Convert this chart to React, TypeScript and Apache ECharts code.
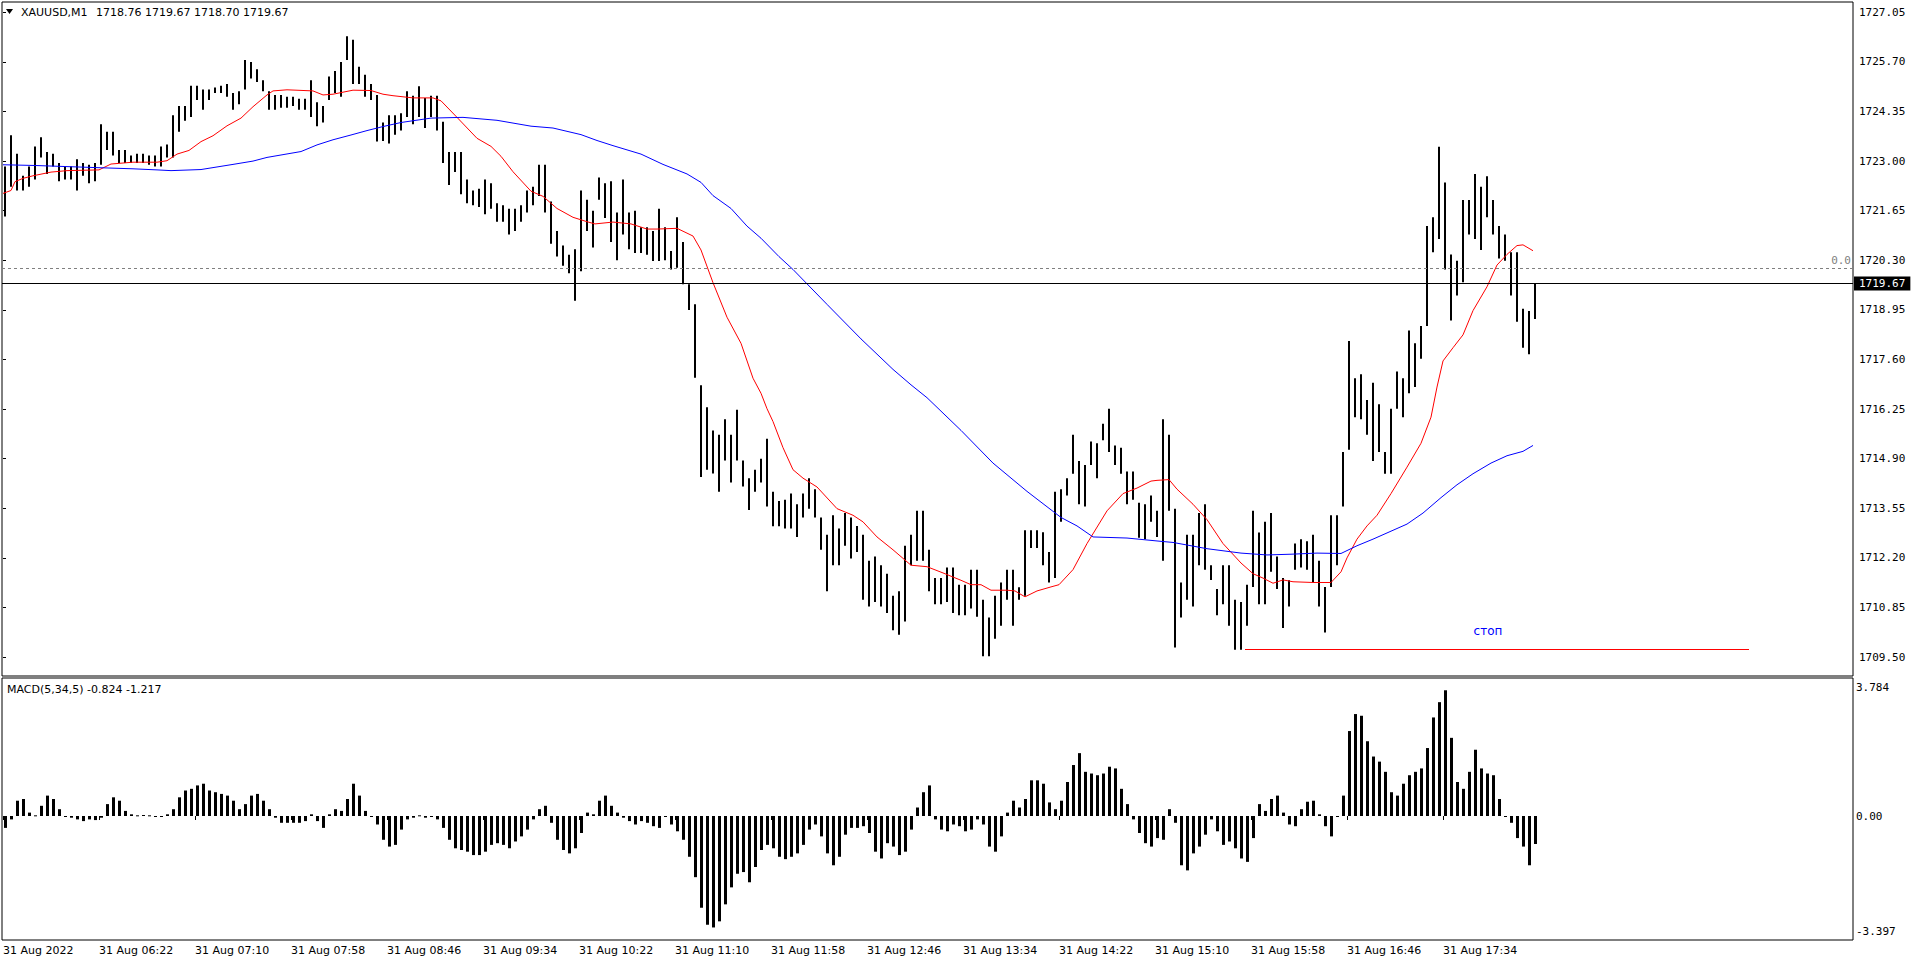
import React, { useEffect, useRef } from "react";
import * as echarts from "echarts";

// Each bar aggregates 3 one-minute bars, starting 31 Aug 2022 05:34
const BAR_MINUTES = 3;

const BAR_HIGH = [
  1722.85,1723.70,1723.20,1722.60,1722.85,1723.40,1723.65,1723.25,1723.20,1722.95,1722.85,1722.85,1723.05,1722.95,1722.90,1722.95,
  1724.00,1723.80,1723.80,1723.30,1723.30,1723.15,1723.20,1723.20,1723.15,1723.15,1723.40,1723.45,1724.25,1724.50,1724.50,1725.05,
  1725.05,1724.95,1724.95,1725.00,1725.05,1725.10,1724.85,1724.90,1725.75,1725.70,1725.50,1725.20,1724.90,1724.80,1724.80,1724.75,
  1724.75,1724.70,1724.70,1725.20,1724.60,1724.50,1725.30,1725.45,1725.70,1726.40,1726.30,1725.57,1725.35,1725.10,1724.80,1724.05,
  1724.25,1724.25,1724.30,1724.90,1724.78,1725.04,1724.72,1724.78,1724.78,1724.07,1723.25,1723.25,1723.25,1722.50,1722.20,1722.25,
  1722.50,1722.40,1721.85,1721.80,1721.70,1721.70,1721.80,1722.20,1722.30,1722.90,1722.90,1721.90,1721.10,1720.70,1720.45,1720.60,
  1722.20,1721.95,1721.65,1722.55,1722.40,1722.45,1721.60,1722.50,1721.60,1721.65,1721.20,1721.20,1721.10,1721.70,1721.20,1720.55,
  1721.47,1720.80,1719.65,1719.10,1716.90,1716.30,1715.67,1715.55,1715.97,1715.55,1716.23,1714.85,1714.37,1714.60,1714.90,1715.44,
  1714.00,1713.75,1713.78,1713.95,1713.66,1713.95,1714.37,1714.07,1713.30,1712.83,1713.36,1713.00,1713.42,1713.30,1713.07,1712.83,
  1712.12,1712.24,1712.00,1711.77,1711.17,1711.29,1712.53,1712.83,1713.48,1713.48,1712.42,1711.65,1711.65,1711.94,1711.94,1711.47,
  1711.47,1711.88,1711.88,1711.06,1710.58,1711.17,1711.53,1711.88,1711.88,1711.40,1712.95,1712.95,1712.95,1712.90,1712.36,1714.00,
  1714.07,1714.37,1715.55,1714.84,1714.73,1715.37,1715.32,1715.85,1716.26,1715.26,1715.20,1714.55,1714.55,1713.70,1713.66,1713.90,
  1713.48,1715.97,1715.55,1713.54,1711.53,1712.83,1712.83,1713.42,1713.66,1712.00,1711.35,1712.00,1712.00,1711.06,1711.00,1711.47,
  1713.48,1712.89,1713.18,1713.42,1712.24,1711.65,1711.59,1712.59,1712.71,1712.65,1712.83,1712.12,1711.41,1713.36,1713.36,1715.08,
  1718.10,1717.09,1717.20,1716.50,1716.97,1716.38,1715.08,1716.26,1717.27,1717.09,1718.39,1718.04,1718.51,1721.23,1721.47,1723.39,
  1722.42,1720.46,1720.29,1721.94,1721.94,1722.65,1722.30,1722.59,1721.94,1721.23,1721.00,1720.52,1720.52,1718.98,1718.92,1719.67,
];

const BAR_LOW = [
  1721.49,1722.30,1722.20,1722.20,1722.30,1722.50,1723.10,1722.65,1722.85,1722.45,1722.50,1722.50,1722.20,1722.60,1722.40,1722.45,
  1722.90,1723.30,1723.15,1722.95,1722.95,1722.95,1722.95,1722.95,1722.90,1722.85,1722.85,1723.10,1723.10,1723.80,1724.10,1724.20,
  1724.66,1724.40,1724.66,1724.85,1724.85,1724.75,1724.40,1724.55,1724.95,1725.25,1725.15,1724.90,1724.40,1724.40,1724.45,1724.45,
  1724.50,1724.40,1724.40,1724.20,1723.95,1724.05,1724.66,1724.85,1724.75,1725.75,1725.10,1725.10,1724.75,1724.66,1723.53,1723.55,
  1723.48,1723.72,1723.83,1724.20,1724.00,1724.20,1723.90,1724.20,1723.83,1722.95,1722.35,1722.70,1722.10,1721.85,1721.80,1721.75,
  1721.55,1721.70,1721.35,1721.35,1721.00,1721.10,1721.35,1721.60,1721.80,1722.05,1721.60,1720.75,1720.40,1720.15,1719.95,1719.20,
  1720.00,1721.10,1720.65,1721.95,1721.45,1720.80,1720.30,1721.00,1720.60,1720.50,1720.50,1720.45,1720.28,1720.28,1720.30,1720.05,
  1720.10,1719.65,1718.95,1717.10,1714.40,1714.60,1714.50,1714.00,1714.85,1714.25,1714.85,1714.14,1713.50,1714.00,1714.25,1713.60,
  1713.06,1713.06,1713.00,1713.00,1712.77,1713.30,1713.54,1713.30,1712.42,1711.29,1712.00,1712.00,1712.53,1712.18,1712.36,1711.06,
  1710.88,1711.00,1710.88,1710.70,1710.23,1710.11,1710.47,1712.00,1712.12,1712.12,1711.29,1710.94,1710.94,1711.00,1710.70,1710.64,
  1710.64,1710.82,1710.60,1709.52,1709.52,1710.00,1710.35,1711.06,1710.35,1711.06,1711.17,1712.47,1712.47,1712.00,1711.53,1711.65,
  1713.18,1713.90,1714.49,1713.66,1713.60,1714.73,1714.37,1715.40,1715.08,1714.73,1714.49,1713.66,1713.78,1712.75,1712.71,1713.18,
  1712.77,1712.12,1713.48,1709.76,1710.58,1711.06,1710.88,1712.00,1711.88,1711.60,1710.64,1710.94,1710.35,1709.70,1709.70,1710.35,
  1711.41,1710.94,1710.94,1711.82,1711.35,1710.29,1710.88,1711.88,1711.94,1711.88,1711.53,1710.88,1710.17,1711.41,1712.00,1713.60,
  1715.14,1716.03,1715.97,1715.55,1714.84,1715.08,1714.49,1714.49,1716.26,1716.03,1716.68,1716.85,1717.62,1718.51,1720.52,1720.88,
  1720.05,1718.66,1719.34,1719.70,1721.00,1720.88,1720.58,1721.47,1721.00,1720.35,1720.29,1719.34,1718.63,1717.92,1717.74,1718.70,
];

const MACD_HIST = [
  -0.35,-0.10,0.45,0.50,0.10,0.02,0.30,0.60,0.50,0.20,0.00,-0.05,-0.10,-0.15,-0.10,-0.12,
  -0.05,0.35,0.55,0.45,0.15,0.05,0.02,0.03,0.02,0.00,-0.03,0.05,0.20,0.55,0.75,0.80,
  0.90,0.95,0.75,0.70,0.65,0.60,0.45,0.20,0.35,0.60,0.65,0.45,0.20,-0.05,-0.20,-0.20,
  -0.20,-0.20,-0.15,0.05,-0.15,-0.35,0.05,0.20,0.15,0.50,0.95,0.60,0.15,0.00,-0.25,-0.70,
  -0.90,-0.85,-0.40,-0.10,-0.05,0.02,-0.05,0.00,-0.10,-0.35,-0.70,-0.95,-1.00,-1.05,-1.15,-1.15,
  -1.05,-0.85,-0.80,-0.85,-0.95,-0.75,-0.60,-0.40,-0.10,0.20,0.30,-0.20,-0.70,-1.00,-1.10,-0.95,
  -0.50,0.10,0.05,0.45,0.60,0.30,0.10,-0.05,-0.15,-0.25,-0.15,-0.20,-0.30,-0.35,0.00,-0.25,
  -0.45,-0.70,-1.20,-1.80,-2.70,-3.20,-3.28,-3.10,-2.60,-2.10,-1.70,-1.65,-1.95,-1.50,-1.00,-0.85,
  -0.95,-1.20,-1.27,-1.20,-1.10,-0.85,-0.40,-0.25,-0.60,-1.10,-1.45,-1.20,-0.55,-0.35,-0.35,-0.30,
  -0.50,-1.05,-1.25,-0.80,-0.90,-1.15,-1.05,-0.40,0.25,0.70,0.90,-0.10,-0.40,-0.45,-0.25,-0.30,
  -0.45,-0.40,-0.10,-0.25,-0.90,-1.05,-0.60,0.10,0.45,0.25,0.50,1.05,1.05,0.95,0.40,0.20,
  0.45,1.00,1.50,1.85,1.30,1.25,1.20,1.25,1.45,1.40,0.80,0.35,-0.10,-0.50,-0.80,-0.90,
  -0.65,-0.70,0.20,-0.20,-1.45,-1.60,-1.10,-0.90,-0.55,-0.10,-0.45,-0.85,-0.75,-0.95,-1.25,-1.35,
  -0.65,0.35,0.15,0.50,0.60,0.10,-0.25,-0.30,0.20,0.42,0.45,0.05,-0.30,-0.60,0.00,0.60,
  2.50,3.00,2.95,2.20,1.75,1.60,1.30,0.70,0.60,0.95,1.20,1.30,1.40,2.00,2.90,3.35,
  3.70,2.30,1.00,0.80,1.30,1.95,1.40,1.25,1.20,0.50,-0.02,-0.20,-0.65,-0.90,-1.45,-0.824,
];

// [minute since 05:34, value]
const RED_MA = [
  [0,1722.12],[4,1722.2],[6,1722.44],[10,1722.53],[15,1722.6],[24,1722.7],[32,1722.74],[48,1722.76],[54,1722.92],[65,1722.97],
  [77,1722.97],[82,1723.01],[87,1723.19],[93,1723.29],[99,1723.53],[105,1723.69],[112,1723.96],[119,1724.17],[125,1724.48],[132,1724.8],
  [135,1724.91],[142,1724.94],[155,1724.91],[160,1724.8],[165,1724.82],[175,1724.93],[184,1724.92],[190,1724.82],[195,1724.78],[205,1724.72],
  [215,1724.72],[219,1724.64],[227,1724.19],[237,1723.62],[244,1723.4],[249,1723.13],[255,1722.71],[264,1722.18],[270,1722.04],[277,1721.71],
  [285,1721.47],[292,1721.35],[296,1721.29],[305,1721.34],[314,1721.29],[322,1721.15],[327,1721.15],[337,1721.17],[345,1720.96],[349,1720.58],
  [355,1719.69],[362,1718.75],[369,1718.04],[375,1717.09],[379,1716.68],[382,1716.26],[385,1715.91],[390,1715.2],[395,1714.6],[400,1714.37],
  [407,1714.13],[417,1713.54],[425,1713.36],[430,1713.18],[437,1712.77],[445,1712.42],[454,1712.0],[462,1711.96],[470,1711.79],[479,1711.59],
  [484,1711.47],[489,1711.47],[494,1711.32],[502,1711.32],[506,1711.3],[511,1711.14],[517,1711.3],[524,1711.41],[528,1711.47],[535,1711.88],
  [542,1712.59],[552,1713.48],[560,1713.95],[567,1714.1],[574,1714.29],[577,1714.31],[583,1714.33],[587,1714.07],[595,1713.66],[602,1713.24],
  [610,1712.59],[619,1712.06],[625,1711.77],[630,1711.65],[635,1711.51],[640,1711.6],[645,1711.55],[655,1711.53],[664,1711.53],[669,1711.82],
  [672,1712.2],[677,1712.71],[682,1713.07],[687,1713.36],[694,1713.95],[702,1714.67],[709,1715.32],[714,1716.03],[717,1716.85],[720,1717.56],
  [725,1717.92],[730,1718.27],[735,1718.93],[742,1719.58],[747,1720.17],[752,1720.46],[757,1720.7],[760,1720.72],[765,1720.56],
];

const BLUE_MA = [
  [0,1722.9],[16,1722.88],[32,1722.85],[48,1722.82],[65,1722.79],[77,1722.76],[84,1722.74],[99,1722.77],[115,1722.91],[125,1723.0],
  [132,1723.1],[149,1723.26],[157,1723.44],[165,1723.58],[174,1723.71],[182,1723.83],[190,1723.94],[199,1724.05],[214,1724.17],[230,1724.19],
  [247,1724.11],[264,1723.95],[275,1723.9],[289,1723.72],[297,1723.56],[305,1723.42],[319,1723.19],[330,1722.91],[342,1722.65],[349,1722.42],
  [355,1722.06],[364,1721.71],[372,1721.23],[379,1720.9],[388,1720.4],[395,1720.05],[412,1719.1],[429,1718.16],[445,1717.33],[454,1716.91],
  [462,1716.56],[479,1715.67],[495,1714.78],[512,1714.01],[529,1713.3],[537,1713.07],[545,1712.77],[562,1712.74],[579,1712.65],[585,1712.62],
  [602,1712.45],[619,1712.33],[632,1712.28],[644,1712.3],[657,1712.33],[669,1712.32],[677,1712.53],[685,1712.71],[702,1713.12],[710,1713.42],
  [719,1713.84],[727,1714.19],[735,1714.49],[744,1714.78],[752,1714.98],[760,1715.1],[765,1715.26],
];

const PRICE_TICKS = [1727.05,1725.70,1724.35,1723.00,1721.65,1720.30,1718.95,1717.60,1716.25,1714.90,1713.55,1712.20,1710.85,1709.50];
const MACD_TICKS = [3.784, 0, -3.397];
const TIME_TICK_MINUTES = [0,48,96,144,192,240,288,336,384,432,480,528,576,624,672,720];
const TIME_LABELS = [
  "31 Aug 2022","31 Aug 06:22","31 Aug 07:10","31 Aug 07:58","31 Aug 08:46","31 Aug 09:34","31 Aug 10:22","31 Aug 11:10",
  "31 Aug 11:58","31 Aug 12:46","31 Aug 13:34","31 Aug 14:22","31 Aug 15:10","31 Aug 15:58","31 Aug 16:46","31 Aug 17:34",
];

const SYMBOL = "XAUUSD,M1";
const HEADER_OHLC = [1718.76, 1719.67, 1718.70, 1719.67];
const MACD_NAME = "MACD(5,34,5)";
const MACD_HEADER = [-0.824, -1.217];
const LAST_PRICE = 1719.67;
const LEVEL_ZERO = 1720.09;
const STOP_PRICE = 1709.70;
const STOP_FROM_MIN = 621;
const STOP_TO_MIN = 873;
const STOP_TEXT = "стоп";
const STOP_TEXT_POS = [742.5, 1710.21];

const SANS = "DejaVu Sans";
const MONO = "DejaVu Sans Mono";
const BAR_PX = 2;
const HIST_PX = 3;

function buildOption(): any {
  const barData = BAR_HIGH.map((h, k) => [k * BAR_MINUTES + 1, h, BAR_LOW[k]]);
  const macdData = MACD_HIST.map((v, k) => [k * BAR_MINUTES + 1, v]);

  return {
    animation: false,
    backgroundColor: "#ffffff",
    grid: [
      { left: 2, top: 2, width: 1851, height: 674, show: true, borderColor: "#000", borderWidth: 1, backgroundColor: "#fff" },
      { left: 2, top: 678, width: 1851, height: 262, show: true, borderColor: "#000", borderWidth: 1, backgroundColor: "#fff" },
    ],
    xAxis: [
      { type: "value", gridIndex: 0, min: -0.5, max: 925, show: false },
      {
        type: "value", gridIndex: 1, min: -0.5, max: 925,
        axisLine: { show: false }, splitLine: { show: false },
        axisTick: { show: true, customValues: TIME_TICK_MINUTES, length: 4, lineStyle: { color: "#000" } },
        axisLabel: {
          customValues: TIME_TICK_MINUTES,
          formatter: (v: number) => TIME_LABELS[TIME_TICK_MINUTES.indexOf(v)] ?? "",
          align: "left", margin: 5, fontFamily: SANS, fontSize: 11, color: "#000",
        },
      },
    ],
    yAxis: [
      {
        type: "value", gridIndex: 0, position: "right", min: 1708.985, max: 1727.33,
        splitLine: { show: false }, axisLine: { show: false },
        axisTick: { show: true, customValues: PRICE_TICKS, length: 3, lineStyle: { color: "#000" } },
        axisLabel: { customValues: PRICE_TICKS, formatter: (v: number) => v.toFixed(2), margin: 6, fontFamily: MONO, fontSize: 11, color: "#000" },
      },
      {
        type: "value", gridIndex: 1, position: "right", min: -3.649, max: 4.061,
        splitLine: { show: false }, axisLine: { show: false },
        axisTick: { show: false },
        axisLabel: {
          customValues: MACD_TICKS,
          formatter: (v: number) => (v === 0 ? "0.00" : v.toFixed(3)),
          margin: 3, fontFamily: MONO, fontSize: 11, color: "#000",
        },
      },
    ],
    graphic: [
      { type: "polygon", shape: { points: [[6, 9], [13, 9], [9.5, 14]] }, style: { fill: "#000" } },
      { type: "text", x: 21, y: 12, style: { text: SYMBOL, fontFamily: SANS, fontSize: 11, fill: "#000", verticalAlign: "middle" } },
      { type: "text", x: 96, y: 12, style: { text: HEADER_OHLC.map((v) => v.toFixed(2)).join(" "), fontFamily: SANS, fontSize: 11, fill: "#000", verticalAlign: "middle" } },
      { type: "text", x: 7, y: 689, style: { text: MACD_NAME + " " + MACD_HEADER.map((v) => v.toFixed(3)).join(" "), fontFamily: SANS, fontSize: 11, fill: "#000", verticalAlign: "middle" } },
    ],
    series: [
      {
        type: "custom", name: "bars", xAxisIndex: 0, yAxisIndex: 0, data: barData,
        encode: { x: 0, y: [1, 2] }, clip: true,
        renderItem: (params: any, api: any) => {
          const x = api.value(0), hi = api.value(1), lo = api.value(2);
          const top = api.coord([x, hi]);
          const bot = api.coord([x, lo]);
          return { type: "rect", shape: { x: Math.round(top[0]) - 1, y: top[1], width: BAR_PX, height: Math.max(1, bot[1] - top[1]) }, style: { fill: "#000" } };
        },
      },
      {
        type: "line", name: "MA fast", xAxisIndex: 0, yAxisIndex: 0, data: RED_MA,
        symbol: "none", showSymbol: false, lineStyle: { color: "#ff0000", width: 1 }, itemStyle: { color: "#ff0000" },
      },
      {
        type: "line", name: "MA slow", xAxisIndex: 0, yAxisIndex: 0, data: BLUE_MA,
        symbol: "none", showSymbol: false, lineStyle: { color: "#0000ff", width: 1 }, itemStyle: { color: "#0000ff" },
        markLine: {
          silent: true, symbol: ["none", "none"], animation: false,
          data: [
            {
              yAxis: LEVEL_ZERO,
              lineStyle: { color: "#808080", type: [3, 3], width: 1 },
              label: { show: true, position: "insideEndTop", formatter: "0.0", color: "#808080", fontFamily: MONO, fontSize: 11, distance: 2 },
            },
            {
              yAxis: LAST_PRICE,
              lineStyle: { color: "#000", type: "solid", width: 1 },
              label: {
                show: true, position: "end", formatter: LAST_PRICE.toFixed(2), distance: 1,
                backgroundColor: "#000", color: "#fff", fontFamily: MONO, fontSize: 11, padding: [2, 5, 1, 5],
              },
            },
            [
              { coord: [STOP_FROM_MIN, STOP_PRICE], lineStyle: { color: "#ff0000", type: "solid", width: 1 }, label: { show: false } },
              { coord: [STOP_TO_MIN, STOP_PRICE] },
            ],
          ],
        },
        markPoint: {
          silent: true, animation: false,
          data: [
            {
              coord: STOP_TEXT_POS, symbol: "rect", symbolSize: [1, 1], itemStyle: { color: "rgba(0,0,0,0)" },
              label: { show: true, position: "inside", formatter: STOP_TEXT, color: "#0000ff", fontFamily: SANS, fontSize: 12 },
            },
          ],
        },
      },
      {
        type: "custom", name: "MACD", xAxisIndex: 1, yAxisIndex: 1, data: macdData,
        encode: { x: 0, y: 1 }, clip: true,
        renderItem: (params: any, api: any) => {
          const x = api.value(0), v = api.value(1);
          const p0 = api.coord([x, 0]);
          const p1 = api.coord([x, v]);
          return {
            type: "rect",
            shape: { x: Math.round(p0[0]) - 1, y: Math.min(p0[1], p1[1]), width: HIST_PX, height: Math.max(1, Math.abs(p1[1] - p0[1])) },
            style: { fill: "#000" },
          };
        },
      },
    ],
  };
}

export default function App() {
  const ref = useRef<HTMLDivElement>(null);
  useEffect(() => {
    if (!ref.current) return;
    const chart = echarts.init(ref.current, null, { renderer: "svg" });
    chart.setOption(buildOption());
    return () => chart.dispose();
  }, []);
  return (
    <div
      ref={ref}
      style={{ position: "fixed", left: 0, top: 0, width: 1916, height: 962, background: "#fff" }}
    />
  );
}
